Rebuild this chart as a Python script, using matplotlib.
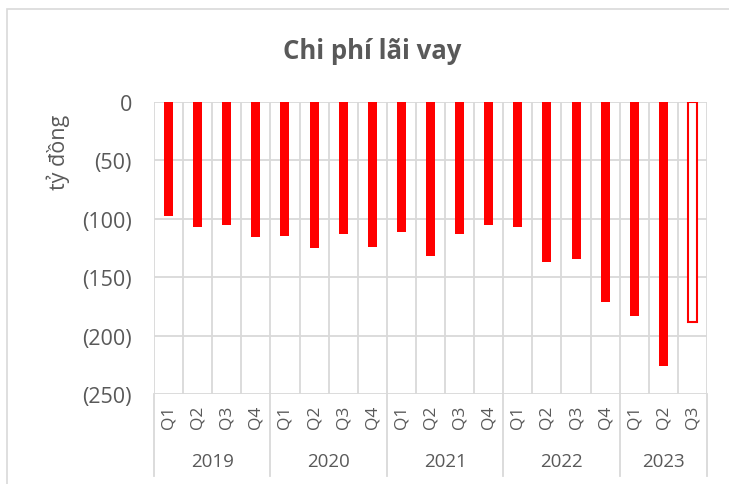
import matplotlib.pyplot as plt
import matplotlib.patches as patches
from matplotlib.transforms import blended_transform_factory

# данные (тỷ đồng, отрицательные = расход)
years = ['2019', '2020', '2021', '2022', '2023']
quarters = ['Q1', 'Q2', 'Q3', 'Q4'] * 4 + ['Q1', 'Q2', 'Q3']
values = [-98, -107, -105, -116, -115, -125, -113, -124,
          -111, -132, -113, -105, -107, -137, -134, -171,
          -183, -226, -188]
yticks = [0, -50, -100, -150, -200, -250]

plt.rcParams['font.family'] = ['Open Sans', 'DejaVu Sans']
grid_c = '#D9D9D9'
text_c = '#595959'

W, H = 729, 485
fig = plt.figure(figsize=(W / 100, H / 100), dpi=100)

# рамка диаграммы
fig.patches.append(patches.Rectangle((7 / W, -0.1), 2, 1 - 10 / H + 0.1, fill=False,
                                     edgecolor=grid_c, linewidth=1.2,
                                     transform=fig.transFigure))

left, right, top, bottom = 154, 707, 103, 395
ax = fig.add_axes([left / W, 1 - bottom / H, (right - left) / W, (bottom - top) / H])

x = list(range(len(values)))
for i, v in enumerate(values):
    if i == len(values) - 1:
        ax.bar(i, v, width=0.31, color='white', edgecolor='#FF0000', linewidth=1.5, zorder=3)
    else:
        ax.bar(i, v, width=0.31, color='#FF0000', zorder=3)

ax.set_xlim(-0.5, len(values) - 0.5)
ax.set_ylim(-250, 0)
ax.set_yticks(yticks)
ax.set_yticklabels(['0' if t == 0 else '(%d)' % abs(t) for t in yticks])
ax.tick_params(axis='y', length=0, pad=16, labelsize=15.5, labelcolor=text_c)

ax.set_xticks(x)
ax.set_xticklabels(quarters, rotation=90)
ax.tick_params(axis='x', length=0, pad=8, labelsize=12.5, labelcolor=text_c)

# сетка
for t in yticks:
    ax.axhline(t, color=grid_c, linewidth=1.3, zorder=1)
for b in range(len(values) + 1):
    ax.axvline(b - 0.5, color=grid_c, linewidth=1.3, zorder=1)
for s in ax.spines.values():
    s.set_visible(False)

# годы под кварталами
tr = blended_transform_factory(ax.transData, ax.transAxes)
y_sep = (bottom - 477) / (bottom - top)
y_year = (bottom - 462) / (bottom - top)
start = 0
for yr in years:
    n = quarters[start:].index('Q4') + 1 if 'Q4' in quarters[start:] else len(quarters) - start
    ax.plot([start - 0.5, start - 0.5], [0, y_sep], color=grid_c, linewidth=1.3,
            transform=tr, clip_on=False)
    ax.text(start + (n - 1) / 2, y_year, yr, transform=tr, ha='center', va='center',
            fontsize=13.5, color=text_c)
    start += n
ax.plot([start - 0.5, start - 0.5], [0, y_sep], color=grid_c, linewidth=1.3,
        transform=tr, clip_on=False)

fig.text(372 / W, 1 - 52 / H, 'Chi phí lãi vay', ha='center', va='center',
         fontsize=18.5, fontweight='bold', color=text_c)
fig.text(58 / W, 1 - 152 / H, 'tỷ đồng', rotation=90, ha='center', va='center',
         fontsize=15.5, color=text_c)

fig.savefig('out.png', dpi=100)
